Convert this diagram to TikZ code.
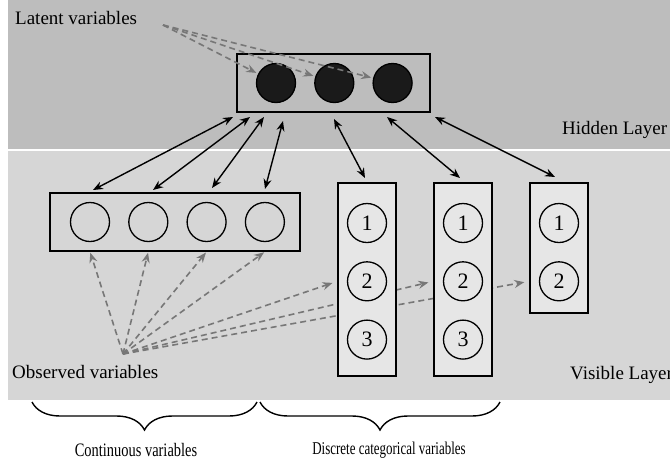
\documentclass[tikz,border=0pt]{standalone}
\usepackage{fontspec}
\setmainfont{Liberation Serif}
\usetikzlibrary{arrows.meta,positioning,decorations.pathreplacing}
\pgfdeclarelayer{bands}
\pgfdeclarelayer{behind}
\pgfsetlayers{bands,behind,main}
\definecolor{hidbg}{HTML}{BDBDBD}
\definecolor{visbg}{HTML}{D6D6D6}
\definecolor{catbg}{HTML}{E6E6E6}
\definecolor{dashgray}{HTML}{777777}
\definecolor{unitdark}{HTML}{1A1A1A}

\begin{document}
\begin{tikzpicture}[x=1pt,y=-1pt,every node/.style={font=\fontsize{19}{22}\selectfont},
    layerbox/.style={draw,line width=1.5pt,inner sep=0pt},
    unit/.style={circle,draw,line width=1.3pt,minimum size=39pt,inner sep=0pt,font=\fontsize{22}{24}\selectfont},
    hid/.style={unit,fill=unitdark},
    lbl/.style={inner sep=0pt,anchor=west},
    link/.style={{Stealth[length=10pt,width=8pt]}-{Stealth[length=10pt,width=8pt]},line width=1.4pt},
    hint/.style={-{Stealth[length=10pt,width=8pt]},dashgray,dash pattern=on 6pt off 4pt,line width=1.6pt},
    brace/.style={decorate,decoration={brace,mirror,amplitude=28pt},line width=1.4pt},
    node distance=18pt]
    \useasboundingbox (0,0) rectangle (670,464);
    \begin{pgfonlayer}{bands}
      \fill[white]  (0,0)   rectangle (670,464);
      \fill[hidbg]  (8,0)   rectangle (670,149);
      \fill[visbg]  (8,151) rectangle (670,400);
    \end{pgfonlayer}

    % hidden layer
    \node[layerbox,minimum width=193pt,minimum height=58pt] (HidBox) at (333.5,83) {};
    \node[hid]                  (HidA) at (276,83) {};
    \node[hid,right=of HidA]    (HidB) {};
    \node[hid,right=of HidB]    (HidC) {};

    % visible layer, continuous part
    \node[layerbox,minimum width=250pt,minimum height=58pt] (ContBox) at (175,222) {};
    \node[unit]                 (ContA) at (90,222) {};
    \node[unit,right=of ContA]  (ContB) {};
    \node[unit,right=of ContB]  (ContC) {};
    \node[unit,right=of ContC]  (ContD) {};

    % visible layer, categorical part
    \node[layerbox,fill=catbg,minimum width=58pt,minimum height=193pt] (CatAbox) at (367,279.5) {};
    \node[unit]                      (CatAone)   at (367,223) {1};
    \node[unit,below=of CatAone]     (CatAtwo)   {2};
    \node[unit,below=of CatAtwo]     (CatAthree) {3};
    \node[layerbox,fill=catbg,minimum width=58pt,minimum height=193pt] (CatBbox) at (463,279.5) {};
    \node[unit]                      (CatBone)   at (463,223) {1};
    \node[unit,below=of CatBone]     (CatBtwo)   {2};
    \node[unit,below=of CatBtwo]     (CatBthree) {3};
    \node[layerbox,fill=catbg,minimum width=58pt,minimum height=130pt] (CatCbox) at (559,248) {};
    \node[unit]                      (CatCone)   at (559,223) {1};
    \node[unit,below=of CatCone]     (CatCtwo)   {2};

    % labels
    \node[lbl] (LatentLbl)   at (15,18)  {Latent variables};
    \node[lbl] (HiddenLbl)   at (562,130) {Hidden Layer};
    \node[lbl] (VisibleLbl)  at (570,375) {Visible Layer};
    \node[lbl] (ObservedLbl) at (12,372) {Observed variables};

    \coordinate (LatentSrc)   at (163,25);
    \coordinate (ObservedSrc) at (123,354);

    \path[hint] (LatentSrc) edge[shorten >=2pt] (HidA)
                            edge[shorten >=2pt] (HidB)
                            edge[shorten >=2pt] (HidC);

    \begin{pgfonlayer}{behind}
      \path[hint] (ObservedSrc) edge[shorten >=1pt] (ContA |- ContBox.south)
                                edge[shorten >=1pt] (ContB |- ContBox.south)
                                edge[shorten >=1pt] (ContC |- ContBox.south)
                                edge[shorten >=1pt] (ContD |- ContBox.south)
                                edge[shorten >=5pt] (CatAtwo -| CatAbox.west)
                                edge[shorten >=5pt] (CatBtwo -| CatBbox.west)
                                edge[shorten >=5pt] (CatCtwo -| CatCbox.west);
    \end{pgfonlayer}

    % links between the layers
    \coordinate (UpA) at (233,117);  \coordinate (DownA) at (93,190);
    \coordinate (UpB) at (250,117);  \coordinate (DownB) at (153,190);
    \coordinate (UpC) at (264,117);  \coordinate (DownC) at (212,188);
    \coordinate (UpD) at (283,121);  \coordinate (DownD) at (265,189);
    \coordinate (UpE) at (334,119);  \coordinate (DownE) at (365,178);
    \coordinate (UpF) at (387,117);  \coordinate (DownF) at (460,178);
    \coordinate (UpG) at (435,117);  \coordinate (DownG) at (555,177);
    \path[link] (UpA) edge (DownA)
                (UpB) edge (DownB)
                (UpC) edge (DownC)
                (UpD) edge (DownD)
                (UpE) edge (DownE)
                (UpF) edge (DownF)
                (UpG) edge (DownG);

    % groups
    \draw[brace] (32,402)  -- (257,402);
    \draw[brace] (260,402) -- (500,402);
    \node (ContLbl) at (136,450) {\scalebox{0.76}[1]{Continuous variables}};
    \node (DiscLbl) at (389,450) {\fontsize{18}{21}\selectfont\scalebox{0.72}[1]{Discrete categorical variables}};
\end{tikzpicture}
\end{document}
